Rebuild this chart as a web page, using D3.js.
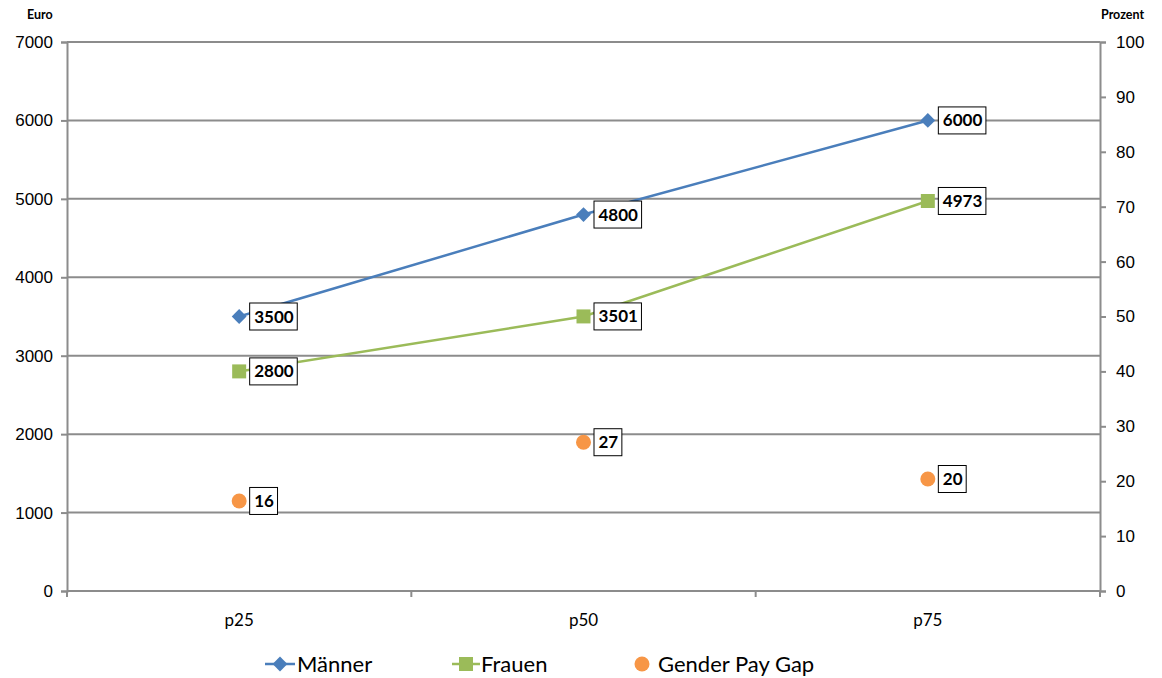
<!DOCTYPE html>
<html>
<head>
<meta charset="utf-8">
<script src="https://cdn.jsdelivr.net/npm/d3@7"></script>
<style>
  body { margin: 0; background: #fff; }
  svg { font-family: Lato, "Open Sans", sans-serif; }
</style>
</head>
<body>
<svg width="1162" height="678"></svg>
<script>
// data
var categories = ["p25", "p50", "p75"];
var maenner = [3500, 4800, 6000];
var frauen = [2800, 3501, 4973];
var payGap = [16.4, 27.1, 20.4];
var euroTicks = [0, 1000, 2000, 3000, 4000, 5000, 6000, 7000];
var pctTicks = [0, 10, 20, 30, 40, 50, 60, 70, 80, 90, 100];

var svg = d3.select("svg");
var plotLeft = 67, plotRight = 1100, plotTop = 42, plotBottom = 591;
var gridColor = "#8c8c8c";

var x = d3.scaleBand().domain(categories).range([plotLeft, plotRight]);
var y = d3.scaleLinear().domain([0, 7000]).range([plotBottom, plotTop]);
var y2 = d3.scaleLinear().domain([0, 100]).range([plotBottom, plotTop]);

// gridlines
svg.append("g").selectAll("line")
  .data(euroTicks)
  .enter().append("line")
  .attr("x1", plotLeft).attr("x2", plotRight)
  .attr("y1", d => y(d)).attr("y2", d => y(d))
  .style("stroke", gridColor).style("stroke-width", 2);

// left axis
var yAxis = svg.append("g")
  .attr("transform", "translate(" + plotLeft + ",0)")
  .call(d3.axisLeft(y).tickValues(euroTicks).tickSize(6).tickPadding(8).tickFormat(d3.format("d")));
yAxis.select(".domain").style("stroke", gridColor).style("stroke-width", 2);
yAxis.selectAll(".tick line").style("stroke", gridColor).style("stroke-width", 2);
yAxis.selectAll("text").style("font-size", "17px").style("fill", "#000").style("font-family", "inherit");

// right axis
var y2Axis = svg.append("g")
  .attr("transform", "translate(" + plotRight + ",0)")
  .call(d3.axisRight(y2).tickValues(pctTicks).tickSize(6).tickPadding(10));
y2Axis.select(".domain").style("stroke", gridColor).style("stroke-width", 2);
y2Axis.selectAll(".tick line").style("stroke", gridColor).style("stroke-width", 2);
y2Axis.selectAll("text").style("font-size", "17px").style("fill", "#000").style("font-family", "inherit");

// bottom axis ticks between categories
var bounds = categories.map(c => x(c)).concat([plotRight]);
svg.append("g").selectAll("line")
  .data(bounds)
  .enter().append("line")
  .attr("x1", d => d).attr("x2", d => d)
  .attr("y1", plotBottom).attr("y2", plotBottom + 6)
  .style("stroke", gridColor).style("stroke-width", 2);

svg.append("g").selectAll("text")
  .data(categories)
  .enter().append("text")
  .attr("x", d => x(d) + x.bandwidth() / 2)
  .attr("y", 626)
  .attr("text-anchor", "middle")
  .style("font-size", "17px")
  .text(d => d);

// axis titles
svg.append("text").attr("x", 27).attr("y", 19).style("font-size", "12.5px").style("font-weight", "bold").text("Euro");
svg.append("text").attr("x", 1101).attr("y", 19).style("font-size", "12.5px").style("font-weight", "bold").text("Prozent");

var cx = d => x(d) + x.bandwidth() / 2;
var blue = "#4a7ebb", green = "#9bbb59", orange = "#f79646";

var line = d3.line().x((d, i) => cx(categories[i])).y(d => y(d));

svg.append("path").datum(maenner).attr("d", line)
  .style("fill", "none").style("stroke", blue).style("stroke-width", 2.5);
svg.append("path").datum(frauen).attr("d", line)
  .style("fill", "none").style("stroke", green).style("stroke-width", 2.5);

var diamond = d3.symbol().type(d3.symbolDiamond2).size(140);
var square = d3.symbol().type(d3.symbolSquare).size(196);

svg.append("g").selectAll("path")
  .data(maenner).enter().append("path")
  .attr("d", diamond)
  .attr("transform", (d, i) => "translate(" + cx(categories[i]) + "," + y(d) + ")")
  .style("fill", blue);

svg.append("g").selectAll("path")
  .data(frauen).enter().append("path")
  .attr("d", square)
  .attr("transform", (d, i) => "translate(" + cx(categories[i]) + "," + y(d) + ")")
  .style("fill", green);

svg.append("g").selectAll("circle")
  .data(payGap).enter().append("circle")
  .attr("cx", (d, i) => cx(categories[i]))
  .attr("cy", d => y2(d))
  .attr("r", 7.5)
  .style("fill", orange);

// data labels in boxes
function addLabels(values, scale, fmt) {
  var g = svg.append("g").selectAll("g")
    .data(values).enter().append("g")
    .attr("transform", (d, i) => "translate(" + (cx(categories[i]) + 11) + "," + scale(d) + ")");
  var t = g.append("text")
    .attr("x", 4).attr("y", 6)
    .style("font-size", "17px").style("font-weight", "bold")
    .text(d => fmt(d));
  t.each(function() {
    var bb = this.getBBox();
    d3.select(this.parentNode).insert("rect", "text")
      .attr("x", -0.5).attr("y", -13.5)
      .attr("width", bb.width + 8).attr("height", 27)
      .style("fill", "#fff").style("stroke", "#000").style("stroke-width", 1);
  });
}
addLabels(maenner, y, d3.format("d"));
addLabels(frauen, y, d3.format("d"));
addLabels(payGap, y2, d3.format(".0f"));

// legend
var legend = svg.append("g").style("font-size", "22px");
var lm = legend.append("g").attr("transform", "translate(265,664)");
lm.append("line").attr("x1", 0).attr("x2", 30).style("stroke", blue).style("stroke-width", 2.5);
lm.append("path").attr("d", diamond).attr("transform", "translate(15,0)").style("fill", blue);
lm.append("text").attr("x", 32).attr("y", 8).text("Männer");

var lf = legend.append("g").attr("transform", "translate(452,664)");
lf.append("line").attr("x1", 0).attr("x2", 28).style("stroke", green).style("stroke-width", 2.5);
lf.append("path").attr("d", square).attr("transform", "translate(14,0)").style("fill", green);
lf.append("text").attr("x", 29).attr("y", 8).text("Frauen");

var lg = legend.append("g").attr("transform", "translate(642,664)");
lg.append("circle").attr("r", 7.5).style("fill", orange);
lg.append("text").attr("x", 16).attr("y", 8).text("Gender Pay Gap");
</script>
</body>
</html>
